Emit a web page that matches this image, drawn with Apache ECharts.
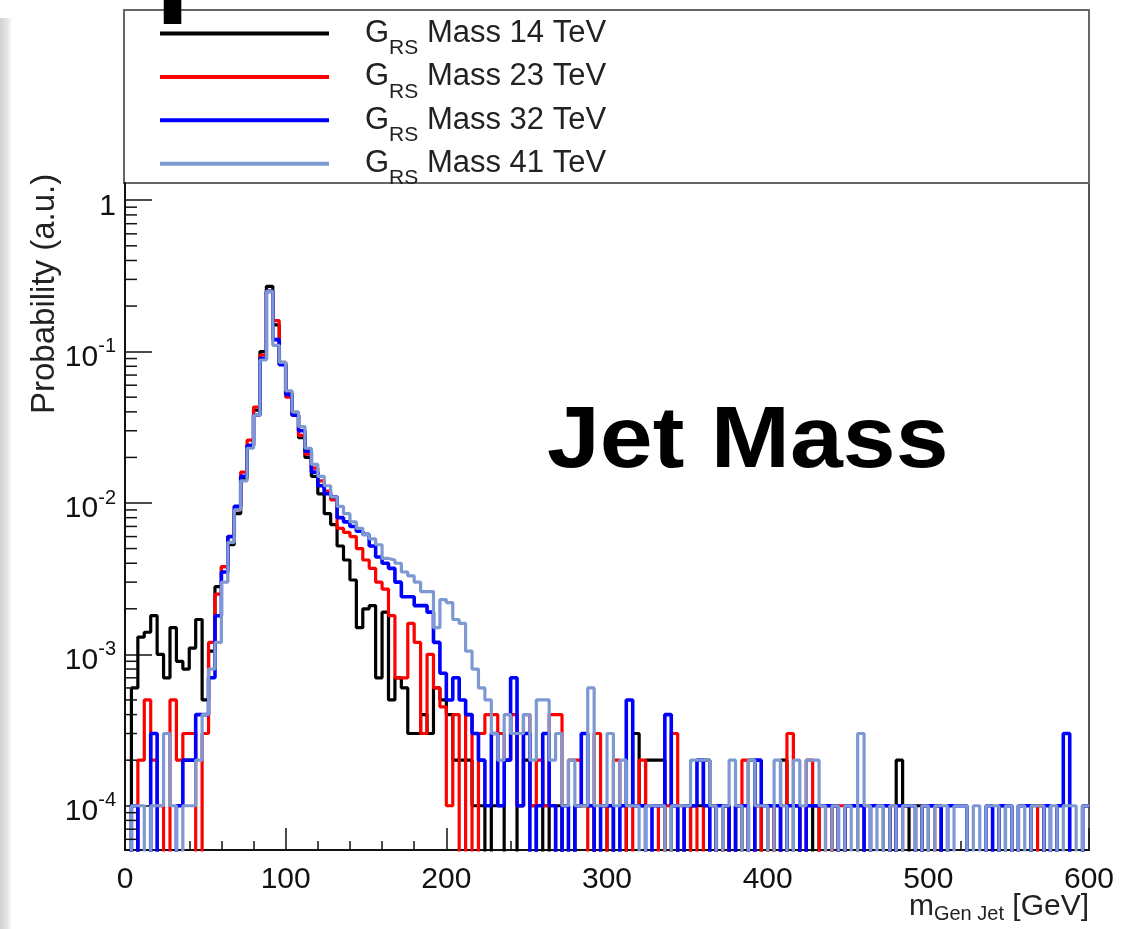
<!DOCTYPE html>
<html>
<head>
<meta charset="utf-8">
<title>Jet Mass</title>
<script src="https://cdn.jsdelivr.net/npm/echarts@6/dist/echarts.min.js"></script>
<style>
  html, body { margin: 0; padding: 0; background: #fff; }
  #chart { width: 1135px; height: 929px; }
</style>
</head>
<body>
<div id="chart"></div>
<script>
// Generator-level jet mass, normalised histograms (4 GeV bins, 0-600 GeV)
const BIN_WIDTH = 4;
const massLabels = ['14', '23', '32', '41'];
const seriesColors = ['#000000', '#ff0000', '#0000ff', '#7d99d1'];

const probMass14 = [
  0, 6e-4, 1.3e-3, 1.4e-3, 1.8e-3, 1.0e-3, 7e-4, 1.5e-3, 9e-4, 8e-4,
  1.1e-3, 1.7e-3, 5e-4, 1.05e-3, 2.8e-3, 3.8e-3, 5.3e-3, 8.5e-3, 1.45e-2, 2.4e-2,
  4.1e-2, 0.1, 0.27, 0.15, 0.084, 0.053, 0.038, 0.027, 0.02, 0.015,
  0.0115, 8.5e-3, 7.2e-3, 5.2e-3, 4.2e-3, 3.1e-3, 1.5e-3, 2.0e-3, 2.1e-3, 7e-4,
  1.9e-3, 5e-4, 7e-4, 6e-4, 3e-4, 3e-4, 4e-4, 3e-4, 6e-4, 5e-4,
  4e-4, 2e-4, 2e-4, 2e-4, 1e-4, 1e-4, 0, 1e-4, 1e-4, 0,
  0, 1e-4, 2e-4, 1e-4, 0, 1e-4, 0, 1e-4, 0, 0,
  1e-4, 1e-4, 1e-4, 0, 0, 1e-4, 0, 0, 1e-4, 3e-4,
  1e-4, 2e-4, 2e-4, 2e-4, 0, 1e-4, 0, 0, 1e-4, 1e-4,
  2e-4, 1e-4, 0, 1e-4, 0, 1e-4, 0, 2e-4, 1e-4, 0,
  1e-4, 0, 2e-4, 0, 1e-4, 0, 0, 1e-4, 0, 0,
  1e-4, 0, 1e-4, 1e-4, 0, 0, 0, 0, 1e-4, 0,
  2e-4, 1e-4, 0, 1e-4, 0, 1e-4, 1e-4, 0, 0, 0,
  0, 0, 0, 0, 0, 0, 1e-4, 0, 0, 0,
  0, 1e-4, 1e-4, 0, 0, 0, 0, 0, 0, 1e-4
];

const probMass23 = [
  0, 0, 2e-4, 5e-4, 2e-4, 1e-4, 0, 5e-4, 2e-4, 3e-4,
  3e-4, 0, 3e-4, 1.2e-3, 2.5e-3, 3.8e-3, 6e-3, 9e-3, 1.6e-2, 2.6e-2,
  4.3e-2, 0.095, 0.25, 0.16, 0.085, 0.05, 0.038, 0.028, 0.021, 0.017,
  0.014, 0.012, 0.0105, 6.8e-3, 6.4e-3, 6.0e-3, 5.0e-3, 4.2e-3, 3.7e-3, 3.0e-3,
  2.7e-3, 1.8e-3, 7e-4, 7e-4, 1.6e-3, 1.2e-3, 3e-4, 1.0e-3, 6e-4, 4.5e-4,
  1e-4, 4e-4, 0, 4e-4, 0, 3e-4, 4e-4, 4e-4, 3e-4, 2e-4,
  4e-4, 1e-4, 4e-4, 1e-4, 2e-4, 1e-4, 4e-4, 4e-4, 1e-4, 2e-4,
  2e-4, 1e-4, 0, 3e-4, 1e-4, 0, 2e-4, 1e-4, 0, 1e-4,
  2e-4, 1e-4, 1e-4, 0, 1e-4, 3e-4, 1e-4, 0, 1e-4, 0,
  1e-4, 1e-4, 0, 1e-4, 0, 1e-4, 2e-4, 0, 1e-4, 0,
  1e-4, 0, 1e-4, 3e-4, 1e-4, 0, 2e-4, 1e-4, 0, 1e-4,
  0, 1e-4, 0, 0, 0, 1e-4, 0, 0, 0, 1e-4,
  1e-4, 0, 0, 0, 1e-4, 1e-4, 0, 0, 0, 0,
  0, 0, 0, 0, 0, 0, 0, 0, 0, 0,
  0, 0, 1e-4, 0, 0, 0, 0, 0, 0, 0
];

const probMass32 = [
  0, 1e-4, 0, 0, 3e-4, 0, 0, 0, 1e-4, 2e-4,
  2e-4, 4e-4, 4e-4, 7e-4, 1.8e-3, 3.5e-3, 6e-3, 9.5e-3, 1.5e-2, 2.4e-2,
  3.8e-2, 0.09, 0.25, 0.12, 0.082, 0.052, 0.038, 0.03, 0.022, 0.016,
  0.013, 0.0115, 0.011, 8e-3, 7.5e-3, 7e-3, 6.5e-3, 6.2e-3, 5.2e-3, 4.4e-3,
  4.0e-3, 3.7e-3, 3.0e-3, 2.4e-3, 2.4e-3, 2.1e-3, 2.1e-3, 1.9e-3, 1.2e-3, 7.5e-4,
  5e-4, 7e-4, 5e-4, 4e-4, 3e-4, 2e-4, 1e-4, 3e-4, 1e-4, 2e-4,
  7e-4, 1e-4, 3e-4, 0, 1e-4, 3e-4, 1e-4, 0, 1e-4, 0,
  1e-4, 3e-4, 1e-4, 0, 1e-4, 1e-4, 0, 1e-4, 5e-4, 1e-4,
  1e-4, 0, 1e-4, 1e-4, 4e-4, 1e-4, 0, 1e-4, 1e-4, 2e-4,
  1e-4, 0, 1e-4, 1e-4, 0, 1e-4, 1e-4, 0, 2e-4, 1e-4,
  1e-4, 1e-4, 0, 1e-4, 1e-4, 0, 1e-4, 1e-4, 1e-4, 1e-4,
  1e-4, 0, 1e-4, 1e-4, 1e-4, 0, 1e-4, 1e-4, 1e-4, 0,
  1e-4, 1e-4, 1e-4, 0, 1e-4, 1e-4, 1e-4, 0, 1e-4, 1e-4,
  1e-4, 0, 0, 0, 1e-4, 0, 1e-4, 1e-4, 0, 1e-4,
  1e-4, 0, 0, 1e-4, 0, 1e-4, 3e-4, 0, 0, 1e-4
];

const probMass41 = [
  0, 1e-4, 1e-4, 0, 1e-4, 1e-4, 3e-4, 1e-4, 0, 1e-4,
  1e-4, 2e-4, 4e-4, 8e-4, 1.2e-3, 3.0e-3, 5.5e-3, 9e-3, 1.4e-2, 2.3e-2,
  3.8e-2, 0.088, 0.25, 0.11, 0.085, 0.055, 0.04, 0.032, 0.023, 0.018,
  0.015, 0.013, 0.011, 9.5e-3, 8.5e-3, 7.5e-3, 6.8e-3, 6.2e-3, 5.8e-3, 5.3e-3,
  4.3e-3, 4.2e-3, 4.0e-3, 3.5e-3, 3.3e-3, 3.0e-3, 2.6e-3, 2.6e-3, 1.5e-3, 2.3e-3,
  2.2e-3, 1.7e-3, 1.6e-3, 1.05e-3, 8e-4, 6e-4, 5e-4, 3e-4, 2e-4, 4e-4,
  3e-4, 3e-4, 4e-4, 2e-4, 5e-4, 5e-4, 2e-4, 3e-4, 1e-4, 2e-4,
  1e-4, 1e-4, 6e-4, 1e-4, 1e-4, 3e-4, 1e-4, 2e-4, 1e-4, 1e-4,
  0, 1e-4, 1e-4, 1e-4, 0, 1e-4, 1e-4, 1e-4, 2e-4, 2e-4,
  2e-4, 1e-4, 0, 1e-4, 2e-4, 1e-4, 0, 2e-4, 1e-4, 1e-4,
  0, 2e-4, 1e-4, 0, 2e-4, 1e-4, 2e-4, 2e-4, 1e-4, 0,
  1e-4, 0, 1e-4, 0, 3e-4, 1e-4, 0, 1e-4, 0, 1e-4,
  0, 1e-4, 1e-4, 0, 1e-4, 0, 1e-4, 1e-4, 0, 1e-4,
  1e-4, 0, 1e-4, 0, 1e-4, 1e-4, 0, 1e-4, 0, 1e-4,
  0, 1e-4, 1e-4, 0, 1e-4, 0, 1e-4, 1e-4, 0, 1e-4
];

const histograms = [probMass14, probMass23, probMass32, probMass41];

const X_MIN = 0, X_MAX = 600, X_STEP = 100;
const Y_MIN = 5.1e-5, Y_MAX = 1.3;
// empty bins are sent below the frame so the step line drops to the bottom edge
const EMPTY_BIN_LEVEL = 1e-7;

const FONT = '"Liberation Sans", Arial, Helvetica, sans-serif';

// histogram outline: one point per lower bin edge, plus the last upper edge
function stepPoints(values) {
  const pts = values.map((v, i) => [i * BIN_WIDTH, v > 0 ? v : EMPTY_BIN_LEVEL]);
  const last = values[values.length - 1];
  pts.push([values.length * BIN_WIDTH, last > 0 ? last : EMPTY_BIN_LEVEL]);
  return pts;
}

// minor ticks of the logarithmic axis at 2..9 x 10^k
const minorTickValues = [];
for (let k = -5; k <= 0; k++) {
  for (let m = 2; m <= 9; m++) {
    const v = m * Math.pow(10, k);
    if (v > Y_MIN && v < Y_MAX) minorTickValues.push([0, v]);
  }
}

const seriesNames = massLabels.map(m => 'Mass ' + m + ' TeV');

const histSeries = histograms.map((vals, i) => ({
  name: seriesNames[i],
  type: 'line',
  step: 'end',
  symbol: 'none',
  data: stepPoints(vals),
  lineStyle: { color: seriesColors[i], width: i === 2 ? 3.6 : 3.2 },
  itemStyle: { color: seriesColors[i] },
  z: 2 + i,
  clip: true,
  silent: true
}));

const chart = echarts.init(document.getElementById('chart'), null, { renderer: 'canvas' });

chart.setOption({
  animation: false,
  backgroundColor: '#ffffff',
  grid: {
    left: 125, top: 183, width: 964, height: 667,
    show: true, borderColor: '#555', borderWidth: 2, backgroundColor: 'transparent'
  },
  xAxis: {
    type: 'value', min: X_MIN, max: X_MAX, interval: X_STEP,
    axisLine: { show: true, onZero: false, lineStyle: { color: '#111', width: 2 } },
    axisTick: { show: true, inside: true, length: 22, lineStyle: { color: '#111', width: 1.5 } },
    minorTick: { show: true, splitNumber: 5, length: 9, lineStyle: { color: '#111', width: 1.5 } },
    axisLabel: { fontFamily: FONT, fontSize: 30, color: '#111', margin: 15 },
    splitLine: { show: false }
  },
  yAxis: {
    type: 'log', logBase: 10, min: Y_MIN, max: Y_MAX,
    axisLine: { show: true, onZero: false, lineStyle: { color: '#111', width: 2 } },
    axisTick: { show: true, inside: true, length: 27, lineStyle: { color: '#111', width: 1.5 } },
    axisLabel: {
      margin: 9,
      showMinLabel: false, showMaxLabel: false,
      formatter: function (v) {
        const lg = Math.log10(v);
        const e = Math.round(lg);
        if (Math.abs(lg - e) > 1e-6) return '';
        return e === 0 ? '{b|1}' : '{b|10}{e|' + e + '}';
      },
      rich: {
        b: { fontFamily: FONT, fontSize: 30, color: '#111', padding: [12, 0, 0, 0] },
        e: { fontFamily: FONT, fontSize: 20, color: '#111', padding: [0, 0, 10, 0] }
      }
    },
    splitLine: { show: false }
  },
  legend: {
    data: seriesNames,
    orient: 'vertical',
    left: 160, top: 18,
    padding: 0,
    itemWidth: 169, itemHeight: 4,
    itemGap: 2.4,
    icon: 'rect',
    selectedMode: false,
    formatter: function (name) { return '{g|G}{s|RS}{m| ' + name + '}'; },
    textStyle: {
      rich: {
        g: { fontFamily: FONT, fontSize: 31, color: '#222', padding: [0, 0, 0, 31] },
        s: { fontFamily: FONT, fontSize: 21, color: '#222', padding: [30, 0, 0, 0] },
        m: { fontFamily: FONT, fontSize: 31, color: '#222' }
      }
    }
  },
  graphic: [
    {
      type: 'rect', left: 0, top: 18, z: 0, silent: true,
      shape: { width: 12, height: 911 },
      style: {
        fill: new echarts.graphic.LinearGradient(0, 0, 1, 0, [
          { offset: 0, color: '#d2d2d2' }, { offset: 0.6, color: '#e4e4e4' }, { offset: 1, color: '#ffffff' }
        ])
      }
    },
    {
      type: 'rect', z: 0, silent: true,
      shape: { x: 124, y: 10, width: 965, height: 173 },
      style: { fill: '#ffffff', stroke: '#666', lineWidth: 2 }
    },
    {
      // slide heading above the figure, mostly outside the page
      type: 'text', z: 1, silent: true,
      x: -250, y: -73,
      style: { text: 'Interpolation', font: '200px ' + FONT, fill: '#000', align: 'left', verticalAlign: 'middle' }
    },
    {
      type: 'text', z: 10, silent: true,
      x: 547, y: 443, scaleX: 1.08,
      style: { text: 'Jet Mass', font: 'bold 88px ' + FONT, fill: '#000', align: 'left', verticalAlign: 'middle' }
    },
    {
      type: 'text', z: 10, silent: true,
      x: 45, y: 414, rotation: Math.PI / 2,
      style: { text: 'Probability (a.u.)', font: '33px ' + FONT, fill: '#222', align: 'left', verticalAlign: 'middle' }
    },
    {
      type: 'text', z: 10, silent: true,
      x: 1089, y: 907,
      style: {
        text: '{m|m}{s|Gen Jet}{m| [GeV]}',
        align: 'right', verticalAlign: 'middle',
        rich: {
          m: { font: '30px ' + FONT, fill: '#222' },
          s: { font: '20px ' + FONT, fill: '#222', padding: [14, 0, 0, 0] }
        }
      }
    }
  ],
  series: histSeries.concat([{
    name: 'minor ticks',
    type: 'custom',
    silent: true,
    z: 20,
    clip: false,
    data: minorTickValues,
    renderItem: function (params, api) {
      const p = api.coord([0, api.value(1)]);
      return {
        type: 'line',
        shape: { x1: p[0], y1: p[1], x2: p[0] + 12, y2: p[1] },
        style: { stroke: '#111', lineWidth: 1.5 }
      };
    }
  }])
});
</script>
</body>
</html>
